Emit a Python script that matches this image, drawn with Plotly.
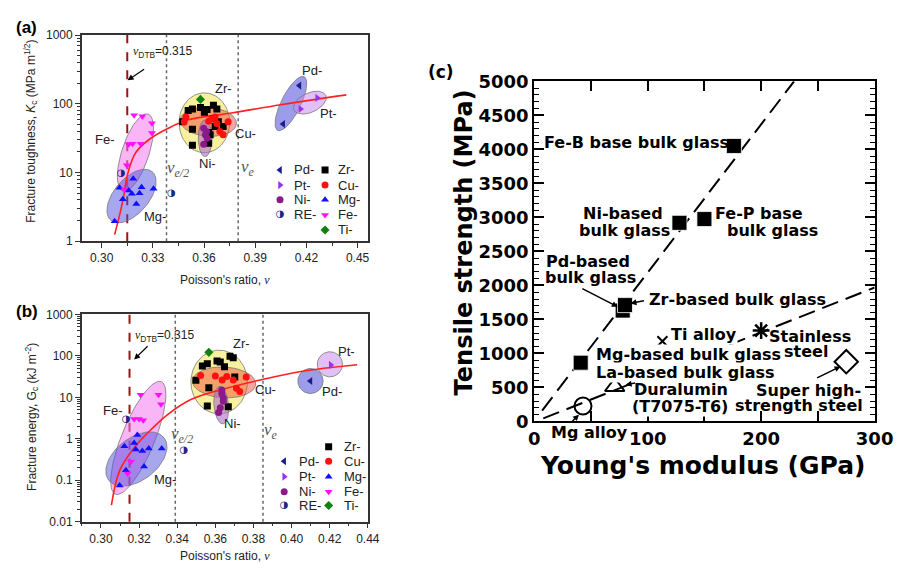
import numpy as np
import plotly.graph_objects as go

W, H = 916, 575

# ---------------------------------------------------------------------------
# (a) fracture toughness K_c (MPa m^1/2) versus Poisson's ratio
# ---------------------------------------------------------------------------
a_pd_nu = [0.4159, 0.4064]
a_pd_kc = [184, 51]
a_pt_nu = [0.4263, 0.4165]
a_pt_kc = [122, 84]
a_ni_nu = [0.3598, 0.3614, 0.3608, 0.3618, 0.3598]
a_ni_kc = [44, 39.5, 35.6, 31.6, 25.8]
a_re_nu = [0.3409, 0.3114]
a_re_kc = [4.9, 9.8]
a_zr_nu = [0.3475, 0.3507, 0.3532, 0.3579, 0.3618, 0.3655, 0.3675, 0.3602, 0.3532,
           0.3627, 0.3665, 0.3684, 0.3712, 0.3636, 0.3532, 0.3627, 0.3655]
a_zr_kc = [54.7, 79.8, 84, 88.7, 82.4, 95.5, 84, 75.5, 42.7,
           38.3, 46.6, 54.7, 46.6, 35.6, 25, 26.6, 60.8]
a_cu_nu = [0.3494, 0.3484, 0.3665, 0.3646, 0.3675, 0.3741, 0.3693, 0.3712, 0.3627]
a_cu_kc = [64.3, 54.7, 64.3, 60.8, 51.8, 54.7, 39.5, 35.6, 55.8]
a_mg_nu = [0.3076, 0.3105, 0.3124, 0.3158, 0.3185, 0.3177, 0.3203, 0.3222, 0.3234, 0.3304]
a_mg_kc = [1.95, 6.0, 4.1, 5.5, 8.1, 4.9, 3.5, 5.0, 6.1, 5.8]
a_fe_nu = [0.3190, 0.3238, 0.3295, 0.3295, 0.3158, 0.3181, 0.3228, 0.3148, 0.3133]
a_fe_kc = [68, 66, 52, 37.5, 25.8, 26.3, 26.3, 12.8, 5.7]
a_ti_nu = [0.3579]
a_ti_kc = [116]
a_fit_nu = [0.3076, 0.3105, 0.3128, 0.3150, 0.3175, 0.3200, 0.3276, 0.3390, 0.3504, 0.3769, 0.4050, 0.4434]
a_fit_kc = [1.25, 2.4, 4.4, 9.0, 14.5, 19.6, 30, 44, 58, 74, 97, 135]
a_nu_dtb, a_nu_e2, a_nu_e = 0.315, 0.338, 0.380

# ---------------------------------------------------------------------------
# (b) fracture energy G_c (kJ m^-2) versus Poisson's ratio
# ---------------------------------------------------------------------------
b_pd_nu = [0.4099]
b_pd_gc = [24.8]
b_pt_nu = [0.4205]
b_pt_gc = [60.8]
b_ni_nu = [0.3634, 0.3634, 0.3642, 0.3642, 0.3626, 0.3617]
b_ni_gc = [15.1, 12.2, 9.6, 8.1, 5.6, 4.3]
b_re_nu = [0.3132, 0.3435]
b_re_gc = [2.9, 0.53]
b_zr_nu = [0.3532, 0.3558, 0.3609, 0.3626, 0.3677, 0.3694, 0.3648, 0.3498, 0.3566, 0.3702, 0.3558, 0.3668]
b_zr_gc = [57.5, 65, 75, 71, 98, 90, 54.6, 25.8, 17.1, 30.8, 6.2, 5.9]
b_cu_nu = [0.3523, 0.3660, 0.3636, 0.3694, 0.3762, 0.3711, 0.3728, 0.3600]
b_cu_gc = [33.7, 32, 26.2, 26.2, 30.8, 16.5, 13.8, 33]
b_mg_nu = [0.3123, 0.3174, 0.3183, 0.3217, 0.3251, 0.3319, 0.3226, 0.3131, 0.3098, 0.3191]
b_mg_gc = [0.66, 0.79, 0.55, 0.51, 0.58, 0.58, 0.215, 0.174, 0.075, 1.24]
b_fe_nu = [0.3208, 0.3302, 0.3315, 0.3174, 0.3200, 0.3222, 0.3140, 0.3157]
b_fe_gc = [11.6, 11.6, 6.8, 3.0, 3.0, 2.8, 0.146, 0.28]
b_ti_nu = [0.3566]
b_ti_gc = [122]
b_fit_nu = [0.3055, 0.3098, 0.3174, 0.3251, 0.3353, 0.3472, 0.3626, 0.3830, 0.4050, 0.4344]
b_fit_gc = [0.025, 0.17, 0.61, 1.48, 3.95, 8.85, 15.1, 25.8, 42, 61]
b_nu_dtb, b_nu_e2, b_nu_e = 0.315, 0.339, 0.385

# ---------------------------------------------------------------------------
# (c) tensile strength (MPa) versus Young's modulus (GPa)
# ---------------------------------------------------------------------------
c_glass_names = ["Fe-B", "Ni", "Fe-P", "Pd", "Zr", "Mg"]
c_glass_E = [176, 128, 150, 78, 80, 41]
c_glass_S = [4050, 2920, 2975, 1630, 1710, 864]
c_mgalloy_E, c_mgalloy_S = [43], [227]
c_dural_E, c_dural_S = [71], [510]
c_ti_E, c_ti_S = [113], [1180]
c_stainless_E, c_stainless_S = [200], [1336]
c_superhigh_E, c_superhigh_S = [275], [878]
c_glass_line_E, c_glass_line_S = [7, 229], [160, 5000]
c_crystal_line_E, c_crystal_line_S = [8, 300], [45, 1969]

# ---------------------------------------------------------------------------
# layout geometry (pixels: left, right, top, bottom)
# ---------------------------------------------------------------------------
A_BOX = (78, 372, 25, 239)
B_BOX = (78, 372, 315, 530)
C_BOX = (543, 893, 73, 426)
A_XR = [0.2884, 0.4560]
B_XR = [0.29, 0.44]


def dom(box):
    l, r, t, b = box
    return [l / W, r / W], [1 - b / H, 1 - t / H]


def P(x, y):
    return x / W, 1 - y / H


def ellipse(nu_c, v_c, a_px, b_px, ang, kx, ky, n=90):
    t = np.linspace(0, 2 * np.pi, n)
    th = np.radians(ang)
    dx = a_px * np.cos(t) * np.cos(th) - b_px * np.sin(t) * np.sin(th)
    dy = a_px * np.cos(t) * np.sin(th) + b_px * np.sin(t) * np.cos(th)
    return nu_c + dx / kx, v_c * 10 ** (dy / ky)


STY = {
    "Pd": dict(symbol="triangle-left", color="#1c1c8a"),
    "Pt": dict(symbol="triangle-right", color="#9a30f0"),
    "Ni": dict(symbol="circle", color="#8a1a8a"),
    "Zr": dict(symbol="square", color="#000000"),
    "Cu": dict(symbol="circle", color="#ff1010"),
    "Mg": dict(symbol="triangle-up", color="#1010ff"),
    "Fe": dict(symbol="triangle-down", color="#ff10ff"),
    "Ti": dict(symbol="diamond", color="#108010"),
}
RE_COLOR = "#22228a"
MS = 7

fig = go.Figure()

# ------------------------------- panels a & b -------------------------------
panels = [
    dict(xa="x", ya="y", box=A_BOX, xr=A_XR, yr=[0, 3],
         groups=[("Pd", a_pd_nu, a_pd_kc), ("Pt", a_pt_nu, a_pt_kc), ("Zr", a_zr_nu, a_zr_kc),
                 ("Cu", a_cu_nu, a_cu_kc), ("Ni", a_ni_nu, a_ni_kc), ("Mg", a_mg_nu, a_mg_kc),
                 ("Fe", a_fe_nu, a_fe_kc), ("Ti", a_ti_nu, a_ti_kc)],
         re=(a_re_nu, a_re_kc), fit=(a_fit_nu, a_fit_kc),
         vl=(a_nu_dtb, a_nu_e2, a_nu_e),
         ell=[(0.3198, 19.5, 42, 14, 72, "rgba(246,120,240,0.55)"),
              (0.3175, 4.55, 33, 18, 50, "rgba(80,80,220,0.5)"),
              (0.3602, 53, 26, 31, 0, "rgba(240,230,80,0.55)"),
              (0.3625, 54.7, 29, 15, -4, "rgba(240,80,60,0.5)"),
              (0.3606, 31.5, 7, 19, 0, "rgba(170,110,200,0.6)"),
              (0.4109, 101, 31, 10, 64, "rgba(90,90,220,0.6)"),
              (0.4220, 104, 18, 10, 25, "rgba(200,140,240,0.55)")]),
    dict(xa="x2", ya="y2", box=B_BOX, xr=B_XR, yr=[-2, 3],
         groups=[("Pd", b_pd_nu, b_pd_gc), ("Pt", b_pt_nu, b_pt_gc), ("Zr", b_zr_nu, b_zr_gc),
                 ("Cu", b_cu_nu, b_cu_gc), ("Ni", b_ni_nu, b_ni_gc), ("Mg", b_mg_nu, b_mg_gc),
                 ("Fe", b_fe_nu, b_fe_gc), ("Ti", b_ti_nu, b_ti_gc)],
         re=(b_re_nu, b_re_gc), fit=(b_fit_nu, b_fit_gc),
         vl=(b_nu_dtb, b_nu_e2, b_nu_e),
         ell=[(0.3196, 1.05, 63, 17, 68, "rgba(246,120,240,0.55)"),
              (0.3186, 0.325, 36, 22, 38, "rgba(80,80,220,0.5)"),
              (0.3620, 23.5, 29, 33, 0, "rgba(240,230,80,0.55)"),
              (0.3646, 22.9, 32.5, 16, -3, "rgba(240,80,60,0.5)"),
              (0.3631, 6.5, 7.5, 19.5, 5, "rgba(170,110,200,0.6)"),
              (0.4099, 24.8, 13, 13, 0, "rgba(90,90,220,0.6)"),
              (0.4201, 62.8, 13, 13, 0, "rgba(200,140,240,0.55)")]),
]

for p in panels:
    l, r, t, b = p["box"]
    kx = (r - l) / (p["xr"][1] - p["xr"][0])
    ky = (b - t) / (p["yr"][1] - p["yr"][0])
    for (nc, vc, ea, eb, ang, fc) in p["ell"]:
        ex, ey = ellipse(nc, vc, ea, eb, ang, kx, ky)
        fig.add_trace(go.Scatter(x=ex, y=ey, xaxis=p["xa"], yaxis=p["ya"], mode="lines",
                                 fill="toself", fillcolor=fc,
                                 line=dict(color="rgba(120,120,120,0.8)", width=1),
                                 hoverinfo="skip"))
    fig.add_trace(go.Scatter(x=p["fit"][0], y=p["fit"][1], xaxis=p["xa"], yaxis=p["ya"],
                             mode="lines", line=dict(color="#ff2020", width=1.6, shape="spline"),
                             hoverinfo="skip"))
    for name, xs, ys in p["groups"]:
        s = STY[name]
        fig.add_trace(go.Scatter(x=xs, y=ys, xaxis=p["xa"], yaxis=p["ya"], mode="markers",
                                 name=name + "-",
                                 marker=dict(symbol=s["symbol"], color=s["color"], size=MS)))
    fig.add_trace(go.Scatter(x=p["re"][0], y=p["re"][1], xaxis=p["xa"], yaxis=p["ya"],
                             mode="text", text=["◑"] * len(p["re"][0]), name="RE-",
                             textfont=dict(family="DejaVu Sans", size=10, color=RE_COLOR)))
    dtb, e2, e = p["vl"]
    fig.add_shape(type="line", xref=p["xa"], yref=p["ya"] + " domain", x0=dtb, x1=dtb, y0=0, y1=1,
                  line=dict(color="#a01010", width=2, dash="dash"), layer="below")
    for xv in (e2, e):
        fig.add_shape(type="line", xref=p["xa"], yref=p["ya"] + " domain", x0=xv, x1=xv, y0=0, y1=1,
                      line=dict(color="#666666", width=1.5, dash="dot"), layer="below")

# ------------------------------- panel c -------------------------------------
dash_c = "17px,8px"
fig.add_trace(go.Scatter(x=c_glass_line_E, y=c_glass_line_S, xaxis="x3", yaxis="y3", mode="lines",
                         line=dict(color="black", width=2, dash=dash_c), hoverinfo="skip"))
fig.add_trace(go.Scatter(x=c_crystal_line_E, y=c_crystal_line_S, xaxis="x3", yaxis="y3", mode="lines",
                         line=dict(color="black", width=2, dash=dash_c), hoverinfo="skip"))
fig.add_trace(go.Scatter(x=c_glass_E, y=c_glass_S, xaxis="x3", yaxis="y3", mode="markers",
                         text=c_glass_names,
                         marker=dict(symbol="square", size=15, color="black",
                                     line=dict(color="white", width=0.8))))
fig.add_trace(go.Scatter(x=c_mgalloy_E, y=c_mgalloy_S, xaxis="x3", yaxis="y3", mode="markers",
                         marker=dict(symbol="circle-open", size=17, color="black", line=dict(width=2))))
fig.add_trace(go.Scatter(x=c_dural_E, y=c_dural_S, xaxis="x3", yaxis="y3", mode="markers",
                         marker=dict(symbol="triangle-up-open", size=17, color="black", line=dict(width=2))))
fig.add_trace(go.Scatter(x=c_ti_E, y=c_ti_S, xaxis="x3", yaxis="y3", mode="markers",
                         marker=dict(symbol="x-thin", size=10, color="black", line=dict(width=2, color="black"))))
fig.add_trace(go.Scatter(x=c_stainless_E, y=c_stainless_S, xaxis="x3", yaxis="y3", mode="markers",
                         marker=dict(symbol="asterisk", size=14, color="black", line=dict(width=2.5, color="black"))))
fig.add_trace(go.Scatter(x=c_superhigh_E, y=c_superhigh_S, xaxis="x3", yaxis="y3", mode="markers",
                         marker=dict(symbol="diamond-open", size=18, color="black", line=dict(width=2))))

# ------------------------------- legends (a, b) ------------------------------
legend_rows = [
    # panel, label, key, marker x, text x, y
    ("a", "Pd-", "Pd", 281.7, 294, 165), ("a", "Pt-", "Pt", 281.7, 294, 180.7),
    ("a", "Ni-", "Ni", 281.7, 294, 196), ("a", "RE-", "RE", 281.7, 294, 211.7),
    ("a", "Zr-", "Zr", 328, 339, 165), ("a", "Cu-", "Cu", 328, 339, 180.7),
    ("a", "Mg-", "Mg", 328, 339, 196), ("a", "Fe-", "Fe", 328, 339, 211.7),
    ("a", "Ti-", "Ti", 328, 339, 227.3),
    ("b", "Pd-", "Pd", 286, 299, 467.3), ("b", "Pt-", "Pt", 286, 299, 483.3),
    ("b", "Ni-", "Ni", 286, 299, 499), ("b", "RE-", "RE", 286, 299, 513.3),
    ("b", "Zr-", "Zr", 331.7, 345, 452.3), ("b", "Cu-", "Cu", 331.7, 345, 467.3),
    ("b", "Mg-", "Mg", 331.7, 345, 483.3), ("b", "Fe-", "Fe", 331.7, 345, 499),
    ("b", "Ti-", "Ti", 331.7, 345, 513.3),
]
for _, lab, key, mx, tx, yy in legend_rows:
    if key == "RE":
        fig.add_trace(go.Scatter(x=[mx], y=[yy], xaxis="x4", yaxis="y4", mode="text", text=["◑"],
                                 textfont=dict(family="DejaVu Sans", size=10, color=RE_COLOR),
                                 hoverinfo="skip"))
    else:
        s = STY[key]
        fig.add_trace(go.Scatter(x=[mx], y=[yy], xaxis="x4", yaxis="y4", mode="markers",
                                 marker=dict(symbol=s["symbol"], color=s["color"], size=MS),
                                 hoverinfo="skip"))

# ------------------------------- text ---------------------------------------
ARIAL = "Arial, Liberation Sans, sans-serif"
SERIF = "Times New Roman, Liberation Serif, serif"
DJB = "DejaVu Sans"
ann = []


def txt(x, y, s, size=13, family=ARIAL, color="#222", xanchor="center", angle=0,
        bold=False, bg=None, yanchor="middle"):
    px, py = P(x, y)
    d = dict(x=px, y=py, xref="paper", yref="paper", text=s, showarrow=False,
             xanchor=xanchor, yanchor=yanchor, textangle=angle,
             font=dict(family=family, size=size, color=color,
                       weight="bold" if bold else "normal"))
    if bg:
        d.update(bgcolor=bg, borderpad=0)
    ann.append(d)


def arrow(x0, y0, x1, y1, width=1.2, size=1.0, head=2):
    # tail (x0, y0) -> head (x1, y1), pixels
    px, py = P(x1, y1)
    ann.append(dict(x=px, y=py, xref="paper", yref="paper", text="", showarrow=True,
                    ax=x0 - x1, ay=y0 - y1, arrowhead=head, arrowsize=size,
                    arrowwidth=width, arrowcolor="black"))


for _, lab, key, mx, tx, yy in legend_rows:
    txt(tx, yy, lab, size=13, xanchor="left")

nu = "<span style='font-family:Times New Roman, Liberation Serif, serif'><i>ν</i></span>"

# panel labels
txt(21.5, 17, "(a)", size=17, bold=True, color="black")
txt(21.5, 312, "(b)", size=17, bold=True, color="black")
txt(447, 63, "(c)", size=17, family=DJB, bold=True, color="black")

# panel a labels
txt(26, 125, "Fracture toughness, <i>K</i><sub>c</sub> (MPa m<sup>1/2</sup>)", size=12, angle=-90)
txt(225, 279, "Poisson's ratio, " + nu, size=12)
txt(128, 43, nu + "<sub>DTB</sub>=0.315", size=12, xanchor="left")
arrow(143, 60, 125, 72)
for (x, y, s) in [(101.7, 133.3, "Fe-"), (153, 213.3, "Mg-"), (223.3, 80, "Zr-"), (246, 127.3, "Cu-"),
                  (207.3, 158.3, "Ni-"), (315, 61.7, "Pd-"), (332, 106, "Pt-")]:
    txt(x, y, s, size=13)
txt(177, 164, "<i>ν</i><sub><i>e/2</i></sub>", size=17, family=SERIF, color="#555")
txt(249, 163, "<i>ν</i><sub><i>e</i></sub>", size=17, family=SERIF, color="#555")

# panel b labels
txt(26, 421, "Fracture energy, G<sub>c</sub> (kJ m<sup>-2</sup>)", size=12, angle=-90)
txt(225, 566, "Poisson's ratio, " + nu, size=12)
txt(131, 337, nu + "<sub>DTB</sub>=0.315", size=12, xanchor="left")
arrow(146.7, 347, 131.7, 361.7)
for (x, y, s) in [(110, 415, "Fe-"), (163.3, 486.7, "Mg-"), (241.7, 345, "Zr-"), (267, 392.7, "Cu-"),
                  (233.3, 428.3, "Ni-"), (350, 353.3, "Pt-"), (335, 395, "Pd-")]:
    txt(x, y, s, size=13)
txt(181, 440, "<i>ν</i><sub><i>e/2</i></sub>", size=17, family=SERIF, color="#555")
txt(272, 436, "<i>ν</i><sub><i>e</i></sub>", size=17, family=SERIF, color="#555")

# panel c labels
txt(471, 240, "Tensile strength (MPa)", size=24, family=DJB, bold=True, color="black", angle=-90)
txt(716, 472, "Young's modulus (GPa)", size=25, family=DJB, bold=True, color="black")
LB = dict(size=16, family=DJB, bold=True, color="black")
txt(551, 136, "Fe-B base bulk glass", xanchor="left", **LB)
txt(634, 210, "Ni-based", **LB)
txt(636, 227.5, "bulk glass", bg="white", **LB)
txt(774, 210, "Fe-P base", **LB)
txt(788.5, 228, "bulk glass", **LB)
txt(598, 260.5, "Pd-based", **LB)
txt(601, 277, "bulk glass", **LB)
txt(659, 299, "Zr-based bulk glass", xanchor="left", **LB)
txt(683, 336, "Ti alloy", xanchor="left", bg="white", **LB)
txt(606, 357, "Mg-based bulk glass", xanchor="left", bg="white", **LB)
txt(606, 375, "La-based bulk glass", xanchor="left", bg="white", **LB)
txt(645, 393, "Duralumin", xanchor="left", bg="white", **LB)
txt(643, 410, "(T7075-T6)", xanchor="left", bg="white", **LB)
txt(558, 437, "Mg alloy", xanchor="left", **LB)
txt(827, 338, "Stainless", **LB)
txt(822, 353, "steel", **LB)
txt(825, 394, "Super high-", **LB)
txt(815.5, 409.5, "strength steel", **LB)
arrow(592, 288, 629, 307, width=1.5, size=0.8)
arrow(657, 300.5, 642, 303.5, width=1.5, size=0.8)
arrow(580, 428, 589, 419, width=1.5, size=0.8)
arrow(648, 386, 637, 388, width=1.5, size=0.8)
arrow(833, 381, 858, 369, width=1.5, size=0.8)

# ------------------------------- axes ---------------------------------------
xa_d, ya_d = dom(A_BOX)
xb_d, yb_d = dom(B_BOX)
xc_d, yc_d = dom(C_BOX)
AXC = "#333"
tickf = dict(family=ARIAL, size=12, color="#222")


def log_minor(lo, hi):
    return [k * 10.0 ** e for e in range(lo, hi) for k in range(2, 10)]


common_ab = dict(showgrid=False, zeroline=False, showline=True, linecolor=AXC, linewidth=1.5,
                 mirror=True, ticks="outside", ticklen=5, tickwidth=1.2, tickcolor=AXC,
                 tickfont=tickf)

fig.update_layout(
    width=W, height=H, margin=dict(l=0, r=0, t=0, b=0),
    paper_bgcolor="white", plot_bgcolor="rgba(0,0,0,0)", showlegend=False,
    xaxis=dict(domain=xa_d, range=A_XR, anchor="y", tick0=0.30, dtick=0.03, tickformat=".2f",
               minor=dict(dtick=0.015, tick0=0.30, ticks="outside", ticklen=3, tickcolor=AXC),
               **common_ab),
    yaxis=dict(domain=ya_d, type="log", range=[0, 3], anchor="x",
               tickvals=[1, 10, 100, 1000], ticktext=["1", "10", "100", "1000"],
               minor=dict(tickvals=log_minor(0, 3), ticks="outside", ticklen=3, tickcolor=AXC),
               **common_ab),
    xaxis2=dict(domain=xb_d, range=B_XR, anchor="y2", tick0=0.30, dtick=0.02, tickformat=".2f",
                minor=dict(dtick=0.01, tick0=0.30, ticks="outside", ticklen=3, tickcolor=AXC),
                **common_ab),
    yaxis2=dict(domain=yb_d, type="log", range=[-2, 3], anchor="x2",
                tickvals=[0.01, 0.1, 1, 10, 100, 1000],
                ticktext=["0.01", "0.1", "1", "10", "100", "1000"],
                minor=dict(tickvals=log_minor(-2, 3), ticks="outside", ticklen=3, tickcolor=AXC),
                **common_ab),
    xaxis3=dict(domain=xc_d, range=[0, 300], anchor="y3", showgrid=False, zeroline=False,
                showline=True, linecolor="black", linewidth=2, mirror="ticks",
                tick0=0, dtick=100, ticks="inside", ticklen=10, tickwidth=1.5, tickcolor="black",
                minor=dict(dtick=50, ticks="inside", ticklen=10, tickwidth=1.5, tickcolor="black"),
                tickfont=dict(family=DJB, size=18, color="black", weight="bold")),
    yaxis3=dict(domain=yc_d, range=[0, 5000], anchor="x3", showgrid=False, zeroline=False,
                showline=True, linecolor="black", linewidth=2, mirror="ticks",
                tick0=0, dtick=500, ticks="inside", ticklen=10, tickwidth=1.5, tickcolor="black",
                minor=dict(dtick=100, ticks="inside", ticklen=5, tickwidth=1.2, tickcolor="black"),
                tickfont=dict(family=DJB, size=18, color="black", weight="bold")),
    xaxis4=dict(domain=[0, 1], range=[0, W], anchor="y4", visible=False, fixedrange=True),
    yaxis4=dict(domain=[0, 1], range=[H, 0], anchor="x4", visible=False, fixedrange=True),
    annotations=ann,
)

fig.write_html("out.html")
